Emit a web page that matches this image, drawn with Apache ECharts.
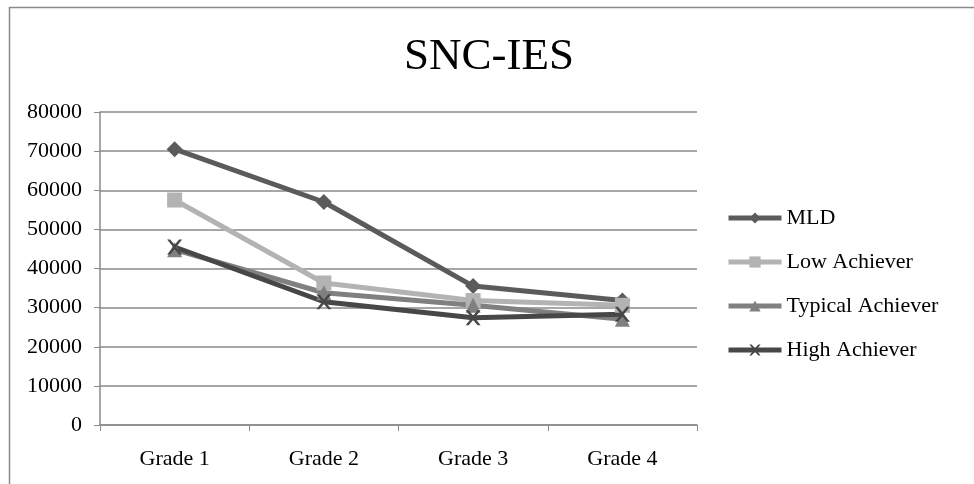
<!DOCTYPE html>
<html><head><meta charset="utf-8">
<script src="https://cdn.jsdelivr.net/npm/echarts@6/dist/echarts.min.js"></script>
<style>html,body{margin:0;padding:0;background:#fff}#c{width:974px;height:484px}</style>
</head><body><div id="c"></div>
<script>
var categories = ['Grade 1', 'Grade 2', 'Grade 3', 'Grade 4'];
var mld = [70500, 57000, 35500, 31800];
var lowAchiever = [57500, 36300, 31800, 30600];
var typicalAchiever = [44800, 33800, 30600, 27000];
var highAchiever = [45500, 31500, 27400, 28300];
var seriesNames = ['MLD', 'Low Achiever', 'Typical Achiever', 'High Achiever'];

var font = '"Liberation Serif", "DejaVu Serif", serif';
var chart = echarts.init(document.getElementById('c'));
function mk(name, data, color, symbol, size) {
  return {
    name: name, type: 'line', data: data, symbol: symbol, symbolSize: size,
    showAllSymbol: true, animation: false,
    lineStyle: { color: color, width: 5 },
    itemStyle: { color: color, borderWidth: 0 }
  };
}
function xSym() {
  return 'path://M0,0 L2,0 L5,3.5 L8,0 L10,0 L6,5 L10,10 L8,10 L5,6.5 L2,10 L0,10 L4,5 Z';
}
chart.setOption({
  animation: false,
  backgroundColor: '#fff',
  title: { text: 'SNC-IES', left: 484, top: 30, textAlign: 'center',
    textStyle: { fontFamily: font, fontSize: 45, fontWeight: 'normal', color: '#000' } },
  graphic: [{ type: 'rect', shape: { x: 9.5, y: 7.5, width: 1000, height: 500 },
    style: { fill: 'none', stroke: '#8a8a8a', lineWidth: 1.5 }, silent: true }],
  legend: {
    orient: 'vertical', left: 721, top: 202, itemWidth: 53, itemHeight: 14, itemGap: 22,
    lineStyle: { width: 5 },
    textStyle: { fontFamily: font, fontSize: 22, color: '#000' },
    data: seriesNames
  },
  grid: { left: 100, right: 277, top: 112, bottom: 59 },
  xAxis: {
    type: 'category', data: categories, boundaryGap: true,
    axisLine: { lineStyle: { color: '#8a8a8a', width: 1.5 } },
    axisTick: { show: true, length: 6, lineStyle: { color: '#8a8a8a' } },
    axisLabel: { fontFamily: font, fontSize: 22, color: '#000', margin: 23 }
  },
  yAxis: {
    type: 'value', min: 0, max: 80000, interval: 10000,
    axisLine: { show: true, lineStyle: { color: '#8a8a8a', width: 1.5 } },
    axisTick: { show: true, length: 6, lineStyle: { color: '#8a8a8a' } },
    splitLine: { lineStyle: { color: '#8a8a8a', width: 1.5 } },
    axisLabel: { fontFamily: font, fontSize: 22, color: '#000', margin: 18,
      formatter: function (v) { return String(v); } }
  },
  series: [
    mk(seriesNames[0], mld, '#5b5b5b', 'diamond', 16),
    mk(seriesNames[1], lowAchiever, '#b3b3b3', 'rect', 15),
    mk(seriesNames[2], typicalAchiever, '#808080', 'triangle', 15),
    mk(seriesNames[3], highAchiever, '#474747', xSym(), 15)
  ]
});
</script></body></html>
